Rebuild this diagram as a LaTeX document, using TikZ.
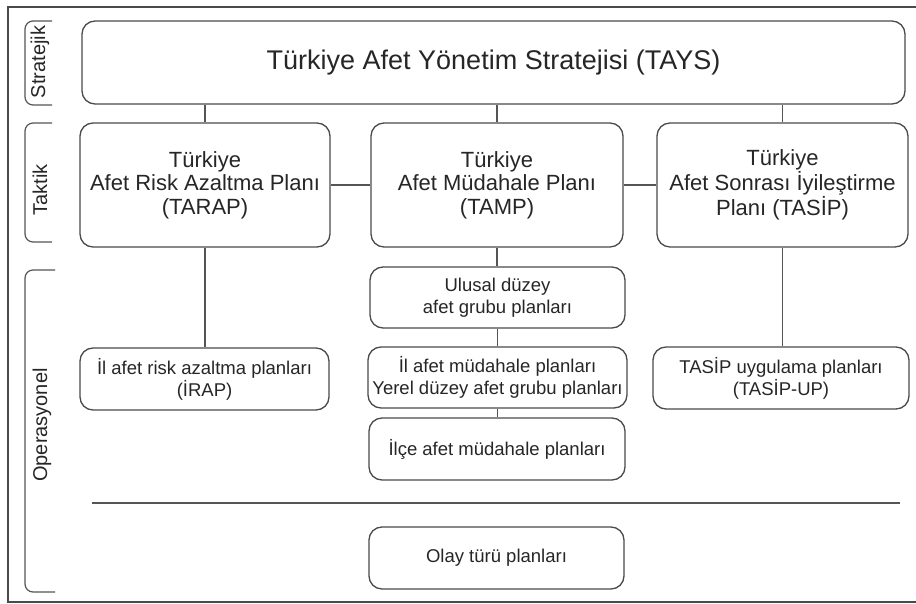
\documentclass[tikz,border=0pt]{standalone}
\usepackage{fontspec}
\setmainfont{Liberation Sans}
\begin{document}
\begin{tikzpicture}[x=1pt,y=-1pt,
  every node/.style={text=txtc},
  planbox/.style={draw=boxc, line width=1.3pt, rounded corners=13pt, align=center, inner sep=0pt},
  bigtext/.style={font=\fontsize{22}{23.5}\selectfont},
  smalltext/.style={font=\fontsize{18.5}{22}\selectfont},
  conn/.style={draw=linec, line width=1.2pt},
  bracket/.style={draw=linec, line width=1.2pt, rounded corners=8pt},
  sidelabel/.style={rotate=90, font=\fontsize{20}{22}\selectfont}
]
\definecolor{txtc}{HTML}{262626}
\definecolor{boxc}{HTML}{4A4A4A}
\definecolor{linec}{HTML}{555555}
\useasboundingbox (0,0) rectangle (916,604);
\fill[white] (0,0) rectangle (916,604);
% outer frame
\draw[draw=boxc, line width=1.6pt] (916,7) -- (8,7) -- (8,602) -- (916,602);

% side brackets
\draw[bracket] (52,21) -- (25,21) -- (25,105) -- (52,105);
\draw[bracket] (52,123) -- (25,123) -- (25,242) -- (52,242);
\draw[bracket] (55,270) -- (25,270) -- (25,592) -- (55,592);
\node[sidelabel] (lstr) at (40,62) {Stratejik};
\node[sidelabel] (ltak) at (40,190) {Taktik};
\node[sidelabel] (lops) at (42,425) {Operasyonel};

% boxes
\node[planbox, font=\fontsize{27}{30}\selectfont, minimum width=823pt, minimum height=83pt] (tays) at (493.5,62.5) {Türkiye Afet Yönetim Stratejisi (TAYS)};
\node[planbox, bigtext, minimum width=250pt, minimum height=124pt] (tarap) at (205,185) {Türkiye\\Afet Risk Azaltma Planı\\(TARAP)};
\node[planbox, bigtext, minimum width=252pt, minimum height=124pt] (tamp) at (497,185) {Türkiye\\Afet Müdahale Planı\\(TAMP)};
\node[planbox, bigtext, minimum width=251pt, minimum height=124pt] (tasip) at (782.5,185) {Türkiye\\Afet Sonrası İyileştirme\\Planı (TASİP)};

\node[planbox, smalltext, minimum width=249pt, minimum height=62pt] (irap) at (204.5,379) {İl afet risk azaltma planları\\(İRAP)};
\node[planbox, smalltext, minimum width=255pt, minimum height=61pt] (ulusal) at (497.5,297.5) {Ulusal düzey\\afet grubu planları};
\node[planbox, smalltext, minimum width=259pt, minimum height=61pt] (ilafet) at (497.5,377.5) {İl afet müdahale planları\\Yerel düzey afet grubu planları};
\node[planbox, smalltext, minimum width=256pt, minimum height=62pt] (ilce) at (497,449) {İlçe afet müdahale planları};
\node[planbox, smalltext, minimum width=256pt, minimum height=62pt] (tasipup) at (781,378) {TASİP uygulama planları\\(TASİP-UP)};
\node[planbox, smalltext, minimum width=255pt, minimum height=62pt] (olay) at (496.5,558) {Olay türü planları};

% connectors
\draw[conn] (tays.south -| tarap.north) -- (tarap.north);
\draw[conn] (tays.south -| tamp.north) -- (tamp.north);
\draw[conn] (tays.south -| tasip.north) -- (tasip.north);
\draw[conn] (tarap.east) -- (tamp.west);
\draw[conn] (tamp.east) -- (tasip.west);
\draw[conn] (tarap.south) -- (tarap.south |- irap.north);
\draw[conn] (tamp.south) -- (tamp.south |- ulusal.north);
\draw[conn] (ulusal.south) -- (ulusal.south |- ilafet.north);
\draw[conn] (ilafet.south) -- (ilafet.south |- ilce.north);
\draw[conn] (tasip.south) -- (tasip.south |- tasipup.north);
\coordinate (sepL) at (92,503);
\coordinate (sepR) at (900,503);
\draw[conn] (sepL) -- (sepR);
\end{tikzpicture}
\end{document}
